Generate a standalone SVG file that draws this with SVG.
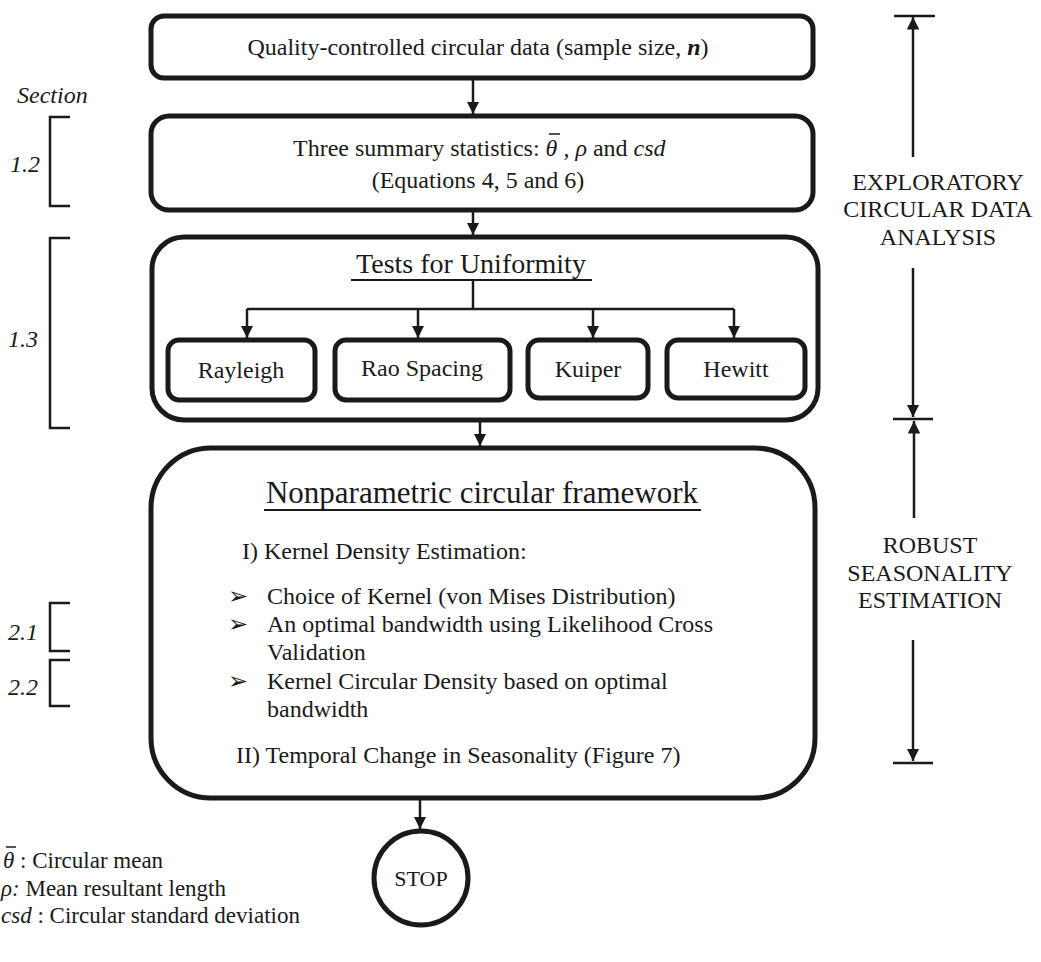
<svg xmlns="http://www.w3.org/2000/svg" width="1041" height="962" viewBox="0 0 1041 962">
<style>
  text { font-family: "Liberation Serif", "Times New Roman", serif; fill: #1a1a1a; }
  .t24 { font-size: 24px; }
  .t23 { font-size: 23px; }
  .t22 { font-size: 22px; }
  .it { font-style: italic; }
  .box { fill: #fff; stroke: #1a1a1a; stroke-width: 5; }
  .sub { fill: #fff; stroke: #1a1a1a; stroke-width: 5; }
  .ln { fill: none; stroke: #1a1a1a; stroke-width: 2.5; }
  .thin { fill: none; stroke: #1a1a1a; stroke-width: 2.5; }
  .brk { fill: none; stroke: #1a1a1a; stroke-width: 2.5; }
  .bar { stroke: #1a1a1a; stroke-width: 1.5; }
</style>
<defs>
  <marker id="ah" viewBox="0 0 10 10" refX="10" refY="5" markerWidth="5" markerHeight="5" markerUnits="strokeWidth" orient="auto">
    <path d="M0,0 L10,5 L0,10 z" fill="#1a1a1a"/>
  </marker>
</defs>
<rect width="1041" height="962" fill="#fff"/>

<g id="section-labels">
  <text x="17" y="103" class="t24 it">Section</text>
  <path class="brk" d="M70,117 H50 V206 H70"/>
  <text x="10" y="172" class="t24 it">1.2</text>
  <path class="brk" d="M70,238 H50 V428 H70"/>
  <text x="8" y="347" class="t24 it">1.3</text>
  <path class="brk" d="M70,603 H50 V651 H70"/>
  <text x="8" y="640" class="t24 it">2.1</text>
  <path class="brk" d="M70,660 H50 V706 H70"/>
  <text x="8" y="695" class="t24 it">2.2</text>
</g>

<g id="n1">
  <rect class="box" x="151" y="16" width="662" height="62" rx="13"/>
  <text x="478" y="55" text-anchor="middle" class="t24">Quality-controlled circular data (sample size, <tspan font-weight="bold" font-style="italic">n</tspan>)</text>
</g>

<g id="n2">
  <rect class="box" x="151" y="116" width="662" height="94" rx="18"/>
  <text x="293" y="156" class="t24">Three summary statistics: <tspan class="it">θ</tspan>  , <tspan class="it">ρ</tspan> and <tspan class="it">csd</tspan></text>
  <line class="bar" x1="549" y1="134" x2="560" y2="134"/>
  <text x="478" y="188" text-anchor="middle" class="t24">(Equations 4, 5 and 6)</text>
</g>

<g id="n3">
  <rect class="box" x="152" y="237" width="666" height="183" rx="32"/>
  <text x="471" y="273" text-anchor="middle" font-size="28">Tests for Uniformity</text>
  <line x1="351" y1="280" x2="592" y2="280" stroke="#1a1a1a" stroke-width="1.8"/>
</g>

<g id="n3a">
  <rect class="sub" x="168" y="340" width="147" height="60" rx="11"/>
  <text x="241" y="378" text-anchor="middle" class="t24">Rayleigh</text>
</g>
<g id="n3b">
  <rect class="sub" x="335" y="340" width="175" height="60" rx="11"/>
  <text x="422" y="376" text-anchor="middle" class="t24">Rao Spacing</text>
</g>
<g id="n3c">
  <rect class="sub" x="528" y="340" width="120" height="58" rx="11"/>
  <text x="588" y="377" text-anchor="middle" class="t24">Kuiper</text>
</g>
<g id="n3d">
  <rect class="sub" x="667" y="340" width="138" height="58" rx="11"/>
  <text x="736" y="377" text-anchor="middle" class="t24">Hewitt</text>
</g>

<g id="n4">
  <rect class="box" x="151" y="448" width="664" height="350" rx="60"/>
  <text x="482" y="503" text-anchor="middle" font-size="31">Nonparametric circular framework</text>
  <line x1="264" y1="510" x2="701" y2="510" stroke="#1a1a1a" stroke-width="1.8"/>
  <text x="242" y="559" class="t24">I) Kernel Density Estimation:</text>
  <text x="228" y="604" class="t24">➢</text>
  <text x="267" y="604" class="t24">Choice of Kernel (von Mises Distribution)</text>
  <text x="228" y="632" class="t24">➢</text>
  <text x="267" y="632" class="t24">An optimal bandwidth using Likelihood Cross</text>
  <text x="267" y="660" class="t24">Validation</text>
  <text x="228" y="689" class="t24">➢</text>
  <text x="267" y="689" class="t24">Kernel Circular Density based on optimal</text>
  <text x="267" y="717" class="t24">bandwidth</text>
  <text x="236" y="763" class="t24">II) Temporal Change in Seasonality (Figure 7)</text>
</g>

<g id="stop">
  <circle cx="421" cy="878" r="47" fill="#fff" stroke="#1a1a1a" stroke-width="5"/>
  <text x="421" y="886" text-anchor="middle" class="t22">STOP</text>
</g>

<g id="connectors">
  <line class="ln" x1="473" y1="78" x2="473" y2="114" marker-end="url(#ah)"/>
  <line class="ln" x1="473" y1="210" x2="473" y2="235" marker-end="url(#ah)"/>
  <path class="ln" d="M473,281 V309"/>
  <path class="ln" d="M247,309 H734"/>
  <line class="ln" x1="247" y1="309" x2="247" y2="338" marker-end="url(#ah)"/>
  <line class="ln" x1="418" y1="309" x2="418" y2="338" marker-end="url(#ah)"/>
  <line class="ln" x1="593" y1="309" x2="593" y2="338" marker-end="url(#ah)"/>
  <line class="ln" x1="734" y1="309" x2="734" y2="338" marker-end="url(#ah)"/>
  <line class="ln" x1="480" y1="420" x2="480" y2="446" marker-end="url(#ah)"/>
  <line class="ln" x1="420" y1="798" x2="420" y2="829" marker-end="url(#ah)"/>
</g>

<g id="phase-arrows">
  <line class="thin" x1="894" y1="16" x2="935" y2="16"/>
  <line class="thin" x1="913" y1="157" x2="913" y2="17" marker-end="url(#ah)"/>
  <text x="938" y="190" text-anchor="middle" class="t24">EXPLORATORY</text>
  <text x="938" y="217" text-anchor="middle" class="t24">CIRCULAR DATA</text>
  <text x="938" y="245" text-anchor="middle" class="t24">ANALYSIS</text>
  <line class="thin" x1="913" y1="268" x2="913" y2="417" marker-end="url(#ah)"/>
  <line class="thin" x1="893" y1="419" x2="933" y2="419"/>
  <line class="thin" x1="914" y1="518" x2="914" y2="421" marker-end="url(#ah)"/>
  <text x="930" y="553" text-anchor="middle" class="t24">ROBUST</text>
  <text x="930" y="581" text-anchor="middle" class="t24">SEASONALITY</text>
  <text x="930" y="608" text-anchor="middle" class="t24">ESTIMATION</text>
  <line class="thin" x1="913" y1="640" x2="913" y2="761" marker-end="url(#ah)"/>
  <line class="thin" x1="893" y1="763" x2="933" y2="763"/>
</g>

<g id="legend">
  <text x="3" y="868" class="t23"><tspan class="it">θ</tspan> : Circular mean</text>
  <line class="bar" x1="6" y1="847" x2="16" y2="847"/>
  <text x="1" y="896" class="t23"><tspan class="it">ρ:</tspan> Mean resultant length</text>
  <text x="1" y="923" class="t23"><tspan class="it">csd</tspan> : Circular standard deviation</text>
</g>
</svg>
